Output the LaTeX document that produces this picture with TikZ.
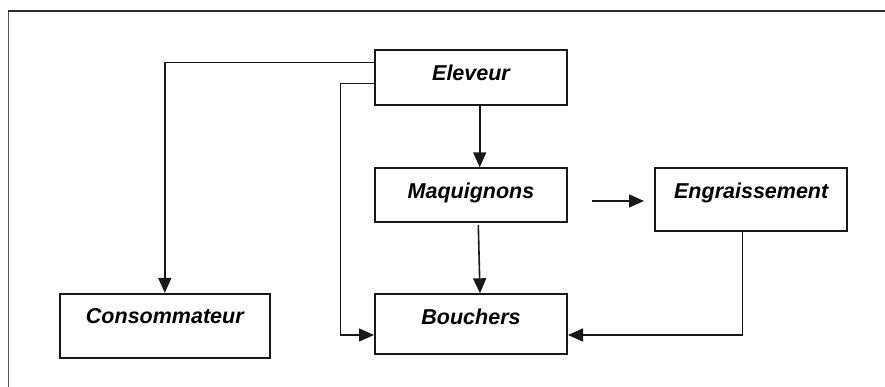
\documentclass[tikz,border=0pt]{standalone}
\usepackage{fontspec}
\setmainfont{Liberation Sans}
\usetikzlibrary{arrows.meta,calc}
\tikzset{
  flowbox/.style={draw=black!90, line width=2pt, rectangle, anchor=north,
    inner xsep=0pt, inner ysep=0pt, text height=30pt, text depth=#1,
    font=\fontsize{21.5}{24}\selectfont\bfseries\itshape},
  conn/.style={line width=1.6pt, draw=black!90,
    -{Triangle[length=15pt,width=13pt]}},
  frameline/.style={line width=1.9pt}
}
\begin{document}
\begin{tikzpicture}[x=1pt,y=-1pt]
\useasboundingbox (0,0) rectangle (885,387);
% outer frame (cut at right and bottom)
\draw[frameline, draw={rgb,255:red,85;green,85;blue,85}] (8.5,387) -- (8.5,11);
\draw[frameline, draw={rgb,255:red,40;green,40;blue,40}] (7.6,11) -- (885,11);

% boxes
\node[flowbox=25.2pt, minimum width=192pt] (el) at (471,49.3) {Eleveur};
\node[flowbox=24.2pt, minimum width=192pt] (mq) at (471,167.3) {Maquignons};
\node[flowbox=33.2pt, minimum width=192.5pt] (en) at (751.2,167.3) {Engraissement};
\node[flowbox=29.4pt, minimum width=192pt] (bo) at (471,293.3) {Bouchers};
\node[flowbox=33.7pt, minimum width=210.5pt] (co) at (164.8,292.9) {Consommateur};

% helper coordinates
\coordinate (yc) at (0,62.7);
\coordinate (yb) at (0,83.7);
\coordinate (xl) at (340.3,0);
\coordinate (ylow) at (0,335);
\coordinate (xm) at (479.7,0);
\coordinate (mqs) at (478.3,225);
\coordinate (bon) at (480,293.3);
\coordinate (ar1) at (591.7,201);
\coordinate (ar2) at (644,201);
\coordinate (xe) at (742.3,0);

% connectors
\draw[conn] (el.west |- yc) -| (co.north);
\draw[conn] (el.west |- yb) -| (xl |- ylow) -- (bo.west |- ylow);
\draw[conn] (xm |- el.south) -- (xm |- mq.north);
\draw[conn] (mqs) -- (bon);
\draw[conn] (ar1) -- (ar2);
\draw[conn] (xe |- en.south) -- (xe |- ylow) -- (bo.east |- ylow);
\end{tikzpicture}
\end{document}
